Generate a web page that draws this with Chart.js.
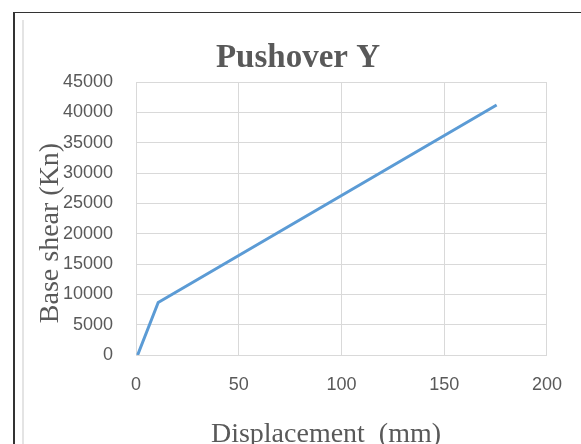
<!DOCTYPE html>
<html>
<head>
<meta charset="utf-8">
<script src="https://cdn.jsdelivr.net/npm/chart.js@4/dist/chart.umd.min.js"></script>
<style>
  html, body { margin: 0; padding: 0; background: #fff; width: 581px; height: 444px; overflow: hidden; }
  #c { position: absolute; left: 0; top: 0; }
  .ln { position: absolute; pointer-events: none; }
</style>
</head>
<body>
<canvas id="c" width="581" height="444"></canvas>
<div class="ln" style="left:13px;top:12px;width:568px;height:1px;background:#333;"></div>
<div class="ln" style="left:13px;top:12px;width:2px;height:432px;background:#333;"></div>
<div class="ln" style="left:22px;top:20px;width:2px;height:424px;background:#e4e4e4;"></div>
<script>
// Data
const displacement = [0.8, 10.8, 175.5];     // mm
const baseShear = [0, 8650, 41200];          // Kn
const xTickValues = [0, 50, 100, 150, 200];
const yTickValues = [0, 5000, 10000, 15000, 20000, 25000, 30000, 35000, 40000, 45000];
const chartTitle = "Pushover Y";
const xTitle = "Displacement  (mm)";
const yTitle = "Base shear (Kn)";

const points = displacement.map((x, i) => ({ x: x, y: baseShear[i] }));

const titlesPlugin = {
  id: 'titles',
  afterDraw(chart) {
    const ctx = chart.ctx;
    ctx.save();
    ctx.fillStyle = '#595959';
    ctx.textAlign = 'center';
    ctx.textBaseline = 'alphabetic';
    ctx.font = 'bold 33px "Liberation Serif", "Times New Roman", serif';
    ctx.fillText(chartTitle, 298, 67);
    ctx.font = '28px "Liberation Serif", "Times New Roman", serif';
    ctx.fillText(xTitle, 326, 442);
    ctx.translate(58, 233);
    ctx.rotate(-Math.PI / 2);
    ctx.fillText(yTitle, 0, 0);
    ctx.restore();
  }
};

new Chart(document.getElementById('c'), {
  type: 'scatter',
  data: {
    datasets: [{
      data: points,
      showLine: true,
      borderColor: '#5b9bd5',
      backgroundColor: '#5b9bd5',
      borderWidth: 3,
      pointRadius: 0,
      tension: 0
    }]
  },
  options: {
    responsive: false,
    devicePixelRatio: 1,
    animation: false,
    layout: { padding: { top: 82, right: 33, left: 0, bottom: 0 } },
    plugins: { legend: { display: false }, tooltip: { enabled: false }, title: { display: false } },
    scales: {
      x: {
        type: 'linear',
        min: 0, max: 200,
        afterFit(scale) { scale.height = 89; },
        afterBuildTicks(scale) { scale.ticks = xTickValues.map(v => ({ value: v })); },
        grid: { color: '#d9d9d9', lineWidth: 1, drawTicks: false },
        border: { color: '#d9d9d9', width: 1 },
        ticks: { padding: 19, color: '#595959', font: { family: '"Liberation Sans", Arial, sans-serif', size: 18 }, maxRotation: 0 }
      },
      y: {
        type: 'linear',
        min: 0, max: 45000,
        afterFit(scale) { scale.width = 136; },
        afterBuildTicks(scale) { scale.ticks = yTickValues.map(v => ({ value: v })); },
        grid: { color: '#d9d9d9', lineWidth: 1, drawTicks: false },
        border: { color: '#d9d9d9', width: 1 },
        ticks: { padding: 23, color: '#595959', font: { family: '"Liberation Sans", Arial, sans-serif', size: 18 },
                 callback: v => String(v) }
      }
    }
  },
  plugins: [titlesPlugin]
});
</script>
</body>
</html>
